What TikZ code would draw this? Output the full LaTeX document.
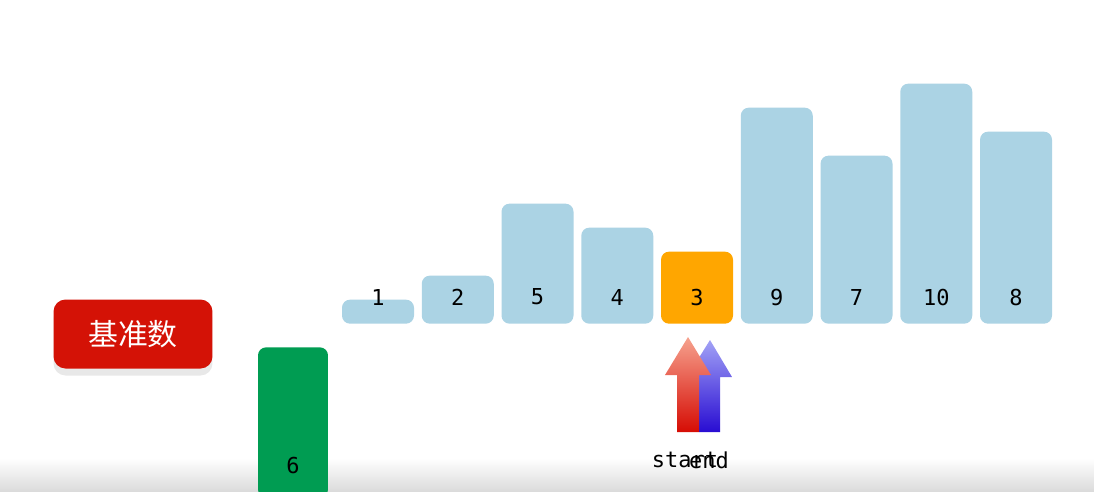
\documentclass[tikz,border=0pt]{standalone}
\usepackage{fontspec}
\setmonofont{DejaVu Sans Mono}
\newfontfamily\cjk{Noto Sans CJK SC}
\usetikzlibrary{shadows}

\definecolor{azul}{RGB}{171,211,228}
\definecolor{naranja}{RGB}{255,166,0}
\definecolor{verde}{RGB}{0,156,82}
\definecolor{rojo}{RGB}{212,18,6}
\definecolor{rojoclaro}{RGB}{246,162,142}
\definecolor{rojooscuro}{RGB}{214,12,4}
\definecolor{azulclaro}{RGB}{162,162,246}
\definecolor{azuloscuro}{RGB}{40,12,210}

\begin{document}
\begin{tikzpicture}[x=0.02cm, y=-0.02cm,
    barra/.style={fill=azul, rounded corners=0.16cm, minimum width=1.44cm, inner sep=0pt},
    actual/.style={barra, fill=naranja},
    pivote/.style={barra, fill=verde, minimum width=1.4cm},
    num/.style={font=\ttfamily\fontsize{12.5}{14}\selectfont, inner sep=0pt},
    boton/.style={fill=rojo, text=white, rounded corners=0.24cm, minimum width=3.18cm,
        minimum height=1.38cm, font=\cjk\fontsize{17}{19}\selectfont,
        drop shadow={shadow xshift=0cm, shadow yshift=-0.14cm, fill=gray!30, opacity=0.6}}]
    \useasboundingbox (0,0) rectangle (1094,491);

    % sombra de la pantalla abajo
    \shade[top color=white, bottom color=gray!28] (0,458) rectangle (1094,491);

    % barras del arreglo
    \foreach \v/\estilo [count=\i from 0] in {1/barra,2/barra,5/barra,4/barra,3/actual,9/barra,7/barra,10/barra,8/barra} {
        \node[\estilo, minimum height={24*\v*0.02cm}, anchor=south] (b\i) at ({378+79.75*\i},324) {};
        \node[num] (n\i) at ([yshift=0.54cm]b\i.south) {\v};
    }

    % pivote
    \begin{scope}
        \clip (0,0) rectangle (1094,491);
        \node[pivote, minimum height=3.0cm, anchor=north] (piv) at (293,347) {};
    \end{scope}
    \node[num] (n6) at (293,465) {6};

    \node[boton] (base) at (133,334) {基准数};

    % flechas start / end
    \shade[top color=azulclaro, bottom color=azuloscuro]
        (699,432) -- (699,377) -- (687,377) -- (710,340) -- (732,377) -- (720,377) -- (720,432) -- cycle;
    \shade[top color=rojoclaro, bottom color=rojooscuro]
        (677,432) -- (677,375) -- (665,375) -- (688,337) -- (711,375) -- (699,375) -- (699,432) -- cycle;

    \node[num] (ini) at (685,460) {start};
    \node[num] (fin) at (709,460) {end};
\end{tikzpicture}
\end{document}
